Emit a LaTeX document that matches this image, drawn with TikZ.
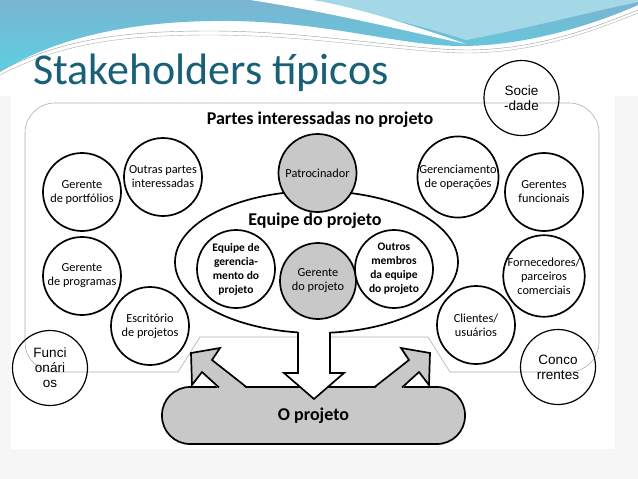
\documentclass[tikz,border=0pt]{standalone}
\usepackage{fontspec}
\setmainfont{Carlito}
\newfontfamily\arialfont{Liberation Sans}
\usepackage{xcolor}
\usepackage{tikz}
\usetikzlibrary{shapes.geometric}

\definecolor{titleblue}{RGB}{24,96,120}
\definecolor{boxgray}{RGB}{200,200,200}
\definecolor{framegray}{RGB}{175,175,175}
\definecolor{wavetop}{RGB}{122,180,208}
\definecolor{wavecyan}{RGB}{92,208,226}
\definecolor{wavelight}{RGB}{165,216,230}
\definecolor{slidegray}{RGB}{246,246,246}

\tikzset{
  stake/.style={circle, draw, line width=1.7pt, fill=white, minimum size=78pt, inner sep=0pt, align=center, font=\fontsize{12.3}{14}\selectfont},
  corestake/.style={stake, fill=boxgray},
  teamstake/.style={stake, font=\bfseries\fontsize{11.5}{14}\selectfont},
  outerstake/.style={circle, draw, line width=1.2pt, minimum size=75pt, inner sep=0pt, align=center, font=\arialfont\fontsize{13.5}{15}\selectfont},
  heading/.style={font=\bfseries\fontsize{18}{20}\selectfont}
}

\begin{document}
\begin{tikzpicture}[x=1pt,y=-1pt]
\useasboundingbox (0,0) rectangle (638,479);
\fill[slidegray] (0,0) rectangle (638,479);
\fill[white] (0,0) rectangle (638,96);
\fill[white] (11,96) rectangle (615,449);
\shade[top color=wavetop, bottom color=wavecyan] (0,0) -- (638,0) -- (638,5) .. controls (600,22) and (530,46) .. (461,46) .. controls (400,46) and (330,22) .. (230,21) .. controls (140,20) and (60,35) .. (0,72) -- cycle;
\fill[wavelight] (290,0) -- (638,0) -- (638,2) .. controls (590,12) and (520,30) .. (466,40) .. controls (420,25) and (350,8) .. (290,0) -- cycle;
\fill[white] (250,0) .. controls (330,12) and (410,32) .. (466,44) .. controls (410,24) and (350,6) .. (312,0) -- cycle;
\draw[framegray!80!titleblue, line width=0.4pt] (0,71) .. controls (60,40) and (120,31) .. (210,31) .. controls (310,31) and (400,49) .. (466,50) .. controls (540,50) and (600,25) .. (638,10);
\draw[framegray, line width=0.4pt] (0,75) .. controls (60,44) and (120,35) .. (210,35) .. controls (310,35) and (400,52) .. (466,53) .. controls (540,53) and (600,28) .. (638,13);

\node[anchor=base west, inner sep=0pt, text=titleblue, font=\fontsize{44}{44}\selectfont] (title) at (33,84) {Stakeholders típicos};

\draw[framegray, line width=0.6pt, rounded corners=30pt] (178,372) -- (25,372) -- (25,103) -- (599,103) -- (599,372) -- (450,372);
\draw[framegray, line width=0.6pt] (450,372) -- (428,337) -- (200,337) -- (178,372);

\node[heading] (partes) at (320,120) {Partes interessadas no projeto};
\node[ellipse, draw, line width=1.7pt, fill=white, minimum width=283pt, minimum height=142pt] (team) at (316.5,262) {};
\node[heading] (equipe) at (315,221) {Equipe do projeto};

\node[stake] (portf) at (82,192) {Gerente\\de portfólios};
\node[stake] (outras) at (163,177) {Outras partes\\interessadas};
\node[stake] (progr) at (82,276) {Gerente\\de programas};
\node[stake] (escrit) at (150,326) {Escritório\\de projetos};
\node[corestake] (patroc) at (317.5,173) {Patrocinador};
\node[teamstake] (gerteam) at (236,269) {Equipe de\\gerencia-\\mento do\\projeto};
\node[corestake, minimum size=76pt] (gerproj) at (318,281) {Gerente\\do projeto};
\node[teamstake] (membros) at (394,269) {Outros\\membros\\da equipe\\do projeto};
\node[stake] (operac) at (458,177) {Gerenciamento\\de operações};
\node[stake] (funcion) at (544,192) {Gerentes\\funcionais};
\node[stake] (fornec) at (544,276) {Fornecedores/\\parceiros\\comerciais};
\node[stake] (client) at (476,325) {Clientes/\\usuários};

\node[draw, fill=boxgray, line width=1.7pt, rounded corners=28pt, minimum width=303pt, minimum height=57pt, heading] (proj) at (313.5,415.5) {O projeto};

\fill[boxgray] (247,389) -- (212,360) -- (220,348) -- (191,353) -- (192,385) -- (202,372) -- (219,389) -- cycle;
\draw[line width=1.7pt, line join=miter] (247,387.5) -- (212,360) -- (220,348) -- (191,353) -- (192,385) -- (202,372) -- (219,387.5);
\fill[boxgray] (374,389) -- (409,360) -- (401,348) -- (430,353) -- (429,385) -- (419,372) -- (402,389) -- cycle;
\draw[line width=1.7pt, line join=miter] (374,387.5) -- (409,360) -- (401,348) -- (430,353) -- (429,385) -- (419,372) -- (402,387.5);
\fill[white] (298,324) -- (298,373) -- (284,373) -- (314,399) -- (344,373) -- (330,373) -- (330,324) -- cycle;
\draw[line width=1.7pt, line join=miter] (298,332) -- (298,373) -- (284,373) -- (314,399) -- (344,373) -- (330,373) -- (330,332);

\node[outerstake] (socied) at (521.5,98) {Socie\\-dade};
\node[outerstake] (funcio) at (50,368) {Funci\\onári\\os};
\node[outerstake] (concor) at (558,367) {Conco\\rrentes};
\end{tikzpicture}
\end{document}
